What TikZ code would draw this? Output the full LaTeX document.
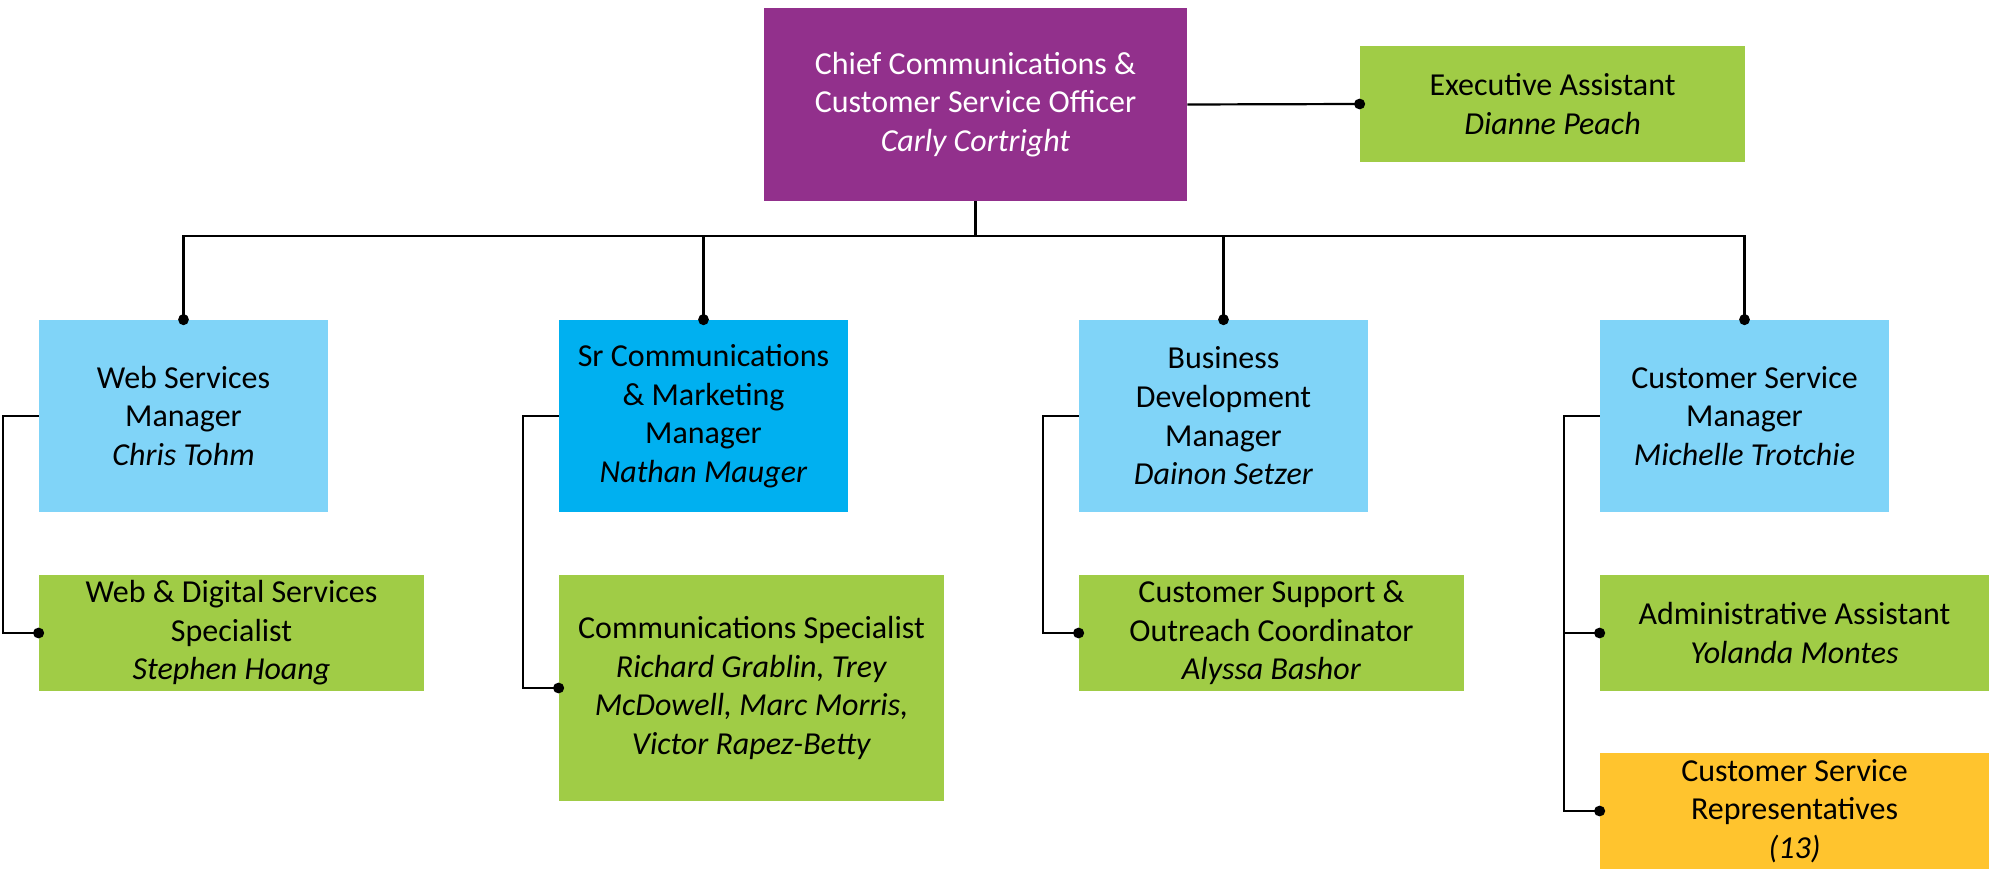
\documentclass[tikz,border=0pt]{standalone}
\usepackage{fontspec}
\setmainfont{Carlito}
\usetikzlibrary{arrows.meta}
\definecolor{cpurple}{RGB}{146,48,140}
\definecolor{cgreen}{RGB}{160,204,70}
\definecolor{clblue}{RGB}{128,212,248}
\definecolor{cdblue}{RGB}{0,176,240}
\definecolor{cgold}{RGB}{255,196,46}
\begin{document}
\begin{tikzpicture}[x=0.5pt,y=-0.5pt,
  box/.style={rectangle, inner sep=0pt, align=center, font=\fontsize{16}{19.3}\selectfont, text=black},
  plain/.style={line width=1.1pt},
  conn/.style={line width=1.1pt, shorten >=-2.75pt, -{Circle[length=5.5pt,width=5.3pt]}}]
\useasboundingbox (0,0) rectangle (1989,871);
% top
\node[box, fill=cpurple, text=white, minimum width=211.5pt, minimum height=96.5pt] (chief) at (975.5,104.5) {Chief Communications \&\\Customer Service Officer\\\textit{Carly Cortright}};
\node[box, fill=cgreen, minimum width=192.5pt, minimum height=58pt] (ea) at (1552.5,104) {Executive Assistant\\\textit{Dianne Peach}};
% managers
\node[box, fill=clblue, minimum width=144.5pt, minimum height=96pt] (web) at (183.5,416) {Web Services\\Manager\\\textit{Chris Tohm}};
\node[box, fill=cdblue, minimum width=144.5pt, minimum height=96pt] (src) at (703.5,416) {Sr Communications\\\& Marketing\\Manager\\\textit{Nathan Mauger}};
\node[box, fill=clblue, minimum width=144.5pt, minimum height=96pt] (bd) at (1223.5,416) {Business\\Development\\Manager\\\textit{Dainon Setzer}};
\node[box, fill=clblue, minimum width=144.5pt, minimum height=96pt] (csm) at (1744.5,416) {Customer Service\\Manager\\\textit{Michelle Trotchie}};
% staff
\node[box, fill=cgreen, minimum width=192.5pt, minimum height=58pt] (wds) at (231.5,633) {Web \& Digital Services\\Specialist\\\textit{Stephen Hoang}};
\node[box, fill=cgreen, minimum width=192.5pt, minimum height=113pt] (cs) at (751.5,688) {Communications Specialist\\\textit{Richard Grablin, Trey}\\\textit{McDowell, Marc Morris,}\\\textit{Victor Rapez-Betty}};
\node[box, fill=cgreen, minimum width=192.5pt, minimum height=58pt] (csc) at (1271.5,633) {Customer Support \&\\Outreach Coordinator\\\textit{Alyssa Bashor}};
\node[box, fill=cgreen, minimum width=194.5pt, minimum height=58pt] (aa) at (1794.5,633) {Administrative Assistant\\\textit{Yolanda Montes}};
\node[box, fill=cgold, minimum width=194.5pt, minimum height=58pt] (csr) at (1794.5,811) {Customer Service\\Representatives\\\textit{(13)}};
% connectors
\coordinate (bus) at (975.5,236);
\draw[plain] (chief.south) -- (bus);
\draw[conn] (chief.east) -- (ea.west);
\draw[conn] (bus) -| (web.north);
\draw[conn] (bus) -| (src.north);
\draw[conn] (bus) -| (bd.north);
\draw[conn] (bus) -| (csm.north);
\draw[conn] (web.west) -- ++(-36,0) |- (wds.west);
\draw[conn] (src.west) -- ++(-36,0) |- (cs.west);
\draw[conn] (bd.west) -- ++(-36,0) |- (csc.west);
\draw[conn] (csm.west) -- ++(-36,0) coordinate (csmk) |- (aa.west);
\draw[conn] (csmk) |- (csr.west);
\end{tikzpicture}
\end{document}
